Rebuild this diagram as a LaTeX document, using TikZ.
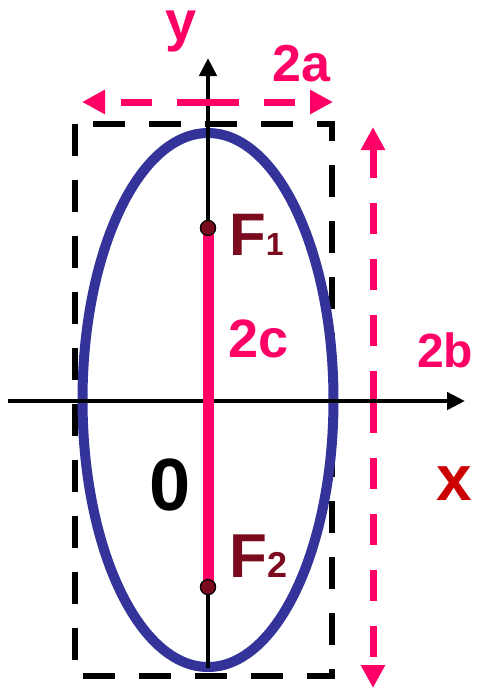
\documentclass[tikz,border=0pt]{standalone}
\usepackage{fontspec}
\setmainfont{Liberation Sans}
\usepackage{tikz}
\usetikzlibrary{arrows.meta, positioning}
\definecolor{pinkc}{HTML}{FF0066}
\definecolor{fred}{HTML}{7B0A1E}
\definecolor{xred}{HTML}{CC0000}
\definecolor{ellblue}{HTML}{333399}

\begin{document}
\begin{tikzpicture}[
  x=1pt, y=-1pt,
  axisline/.style={line width=4.5pt, -{Triangle[length=18pt, width=17pt]}},
  sizearr/.style={draw=pinkc, line width=7pt, dash pattern=on 31pt off 25pt,
                  -{Triangle[length=23pt, width=23pt]}},
  focus/.style={circle, draw=black, line width=1.2pt, fill=fred, minimum size=15pt, inner sep=0pt},
  lbl/.style={inner sep=0pt, anchor=base west, font=\bfseries}
]
\useasboundingbox (0,0) rectangle (477,689);

% Key points
\coordinate (O) at (208,401);
\coordinate (xl) at (8,401);
\coordinate (xr) at (465,401);
\coordinate (ybot) at (208,668);
\coordinate (ytop) at (208,58);
\coordinate (amid) at (208,102);
\coordinate (aleft) at (82,102);
\coordinate (aright) at (333,102);
\coordinate (bmid) at (373,402);
\coordinate (btop) at (373,127);
\coordinate (bbot) at (373,688);

% Dashed bounding box
\draw[line width=5.5pt, dash pattern=on 32pt off 24pt] (75,124) rectangle (332,676);

% 2b size arrows
\draw[sizearr] (bmid) -- (btop);
\draw[sizearr] (bmid) -- (bbot);

% Ellipse
\draw[ellblue, line width=10pt] (208,400) ellipse [x radius=125.5, y radius=267];

% Axes
\draw[axisline] (xl) -- (xr);
\draw[axisline] (ybot) -- (ytop);

% 2a size arrows
\draw[sizearr] (amid) -- (aleft);
\draw[sizearr] (amid) -- (aright);

% Foci and focal distance
\node[focus] (F1) at (208,228) {};
\node[focus] (F2) at (208,587) {};
\draw[pinkc, line width=11pt] (F1.center) -- (F2.center);
\node[focus] at (F1) {};
\node[focus] at (F2) {};

% Labels
\node[lbl, anchor=base, font=\bfseries\fontsize{56}{56}\selectfont, text=pinkc] (ylab) at (181,40) {y};
\node[lbl, font=\bfseries\fontsize{52}{52}\selectfont, text=pinkc] (alab) at (272,81) {2a};
\node[lbl, font=\bfseries\fontsize{48}{48}\selectfont, text=pinkc] (blab) at (417,367) {2b};
\node[lbl, font=\bfseries\fontsize{54}{54}\selectfont, text=pinkc] (clab) at (228,357) {2c};
\node[lbl, font=\bfseries\fontsize{60}{60}\selectfont, text=fred] (f1lab) at (229,255) {F{\fontsize{32}{32}\selectfont 1}};
\node[lbl, font=\bfseries\fontsize{62}{62}\selectfont, text=fred] (f2lab) at (229,577) {F{\fontsize{36}{36}\selectfont 2}};
\node[lbl, anchor=base, font=\bfseries\fontsize{74}{74}\selectfont] (olab) at (170,510) {0};
\node[lbl, anchor=base, font=\bfseries\fontsize{64}{64}\selectfont, text=xred] (xlab) at (454,500) {x};

\end{tikzpicture}
\end{document}
